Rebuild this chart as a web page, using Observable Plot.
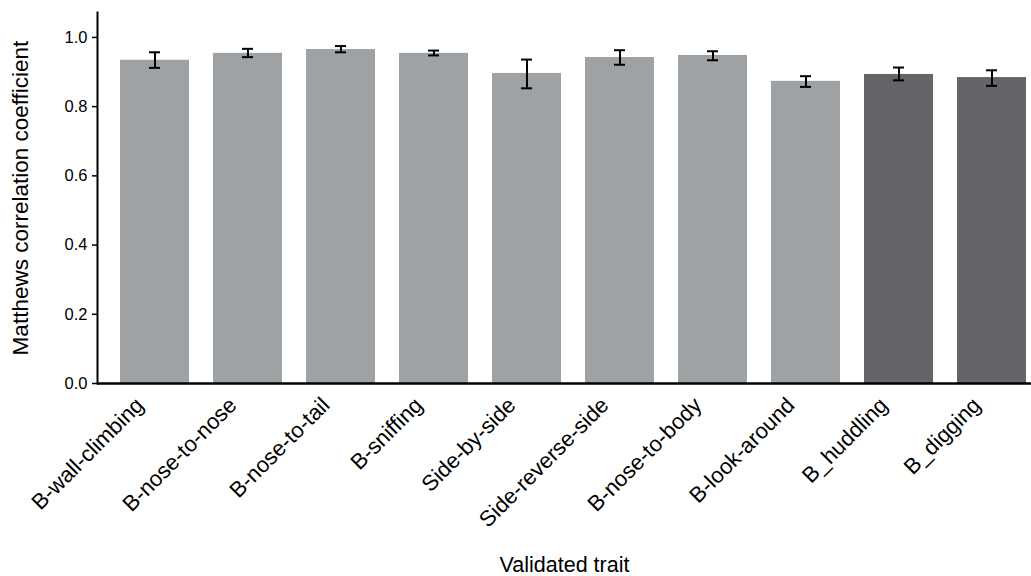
<!DOCTYPE html>
<html>
<head>
<meta charset="utf-8">
<script src="https://cdn.jsdelivr.net/npm/d3@7"></script>
<script src="https://cdn.jsdelivr.net/npm/@observablehq/plot@0.6"></script>
<style>
  html, body { margin: 0; padding: 0; background: #fff; }
  svg { font-family: "Liberation Sans", Arial, sans-serif; }
</style>
</head>
<body>
<div id="chart"></div>
<script>
const traits = ["B-wall-climbing", "B-nose-to-nose", "B-nose-to-tail", "B-sniffing", "Side-by-side",
  "Side-reverse-side", "B-nose-to-body", "B-look-around", "B_huddling", "B_digging"];
const mcc = [0.934, 0.954, 0.965, 0.954, 0.896, 0.942, 0.948, 0.873, 0.893, 0.884];
const errLow = [0.912, 0.943, 0.957, 0.948, 0.853, 0.921, 0.934, 0.857, 0.876, 0.860];
const errHigh = [0.957, 0.967, 0.975, 0.962, 0.936, 0.963, 0.960, 0.888, 0.913, 0.905];
const group = ["a", "a", "a", "a", "a", "a", "a", "a", "b", "b"];
const yTicks = [0, 0.2, 0.4, 0.6, 0.8, 1.0];

const data = traits.map((t, i) => ({trait: t, mcc: mcc[i], lo: errLow[i], hi: errHigh[i], group: group[i]}));

const chart = Plot.plot({
  width: 1031,
  height: 576,
  marginLeft: 97,
  marginRight: 0,
  marginTop: 12,
  marginBottom: 193,
  style: {fontFamily: "Liberation Sans, Arial, sans-serif", color: "#000", background: "#fff"},
  x: {domain: traits, paddingInner: 0.26, paddingOuter: 0.135, align: 0.8, label: null},
  y: {domain: [0, 1.072], label: null},
  color: {domain: ["a", "b"], range: ["#9fa2a5", "#636569"]},
  marks: [
    Plot.barY(data, {x: "trait", y: "mcc", fill: "group"}),
    Plot.ruleX(data, {x: "trait", y1: "lo", y2: "hi", stroke: "#000", strokeWidth: 2}),
    Plot.tickY(data, {x: "trait", y: "lo", stroke: "#000", strokeWidth: 2, insetLeft: 29, insetRight: 29}),
    Plot.tickY(data, {x: "trait", y: "hi", stroke: "#000", strokeWidth: 2, insetLeft: 29, insetRight: 29}),
    Plot.axisY({ticks: yTicks, tickFormat: d3.format(".1f"), tickSize: 5, tickPadding: 5, fontSize: 16.5, strokeWidth: 1.5}),
    Plot.axisY({ticks: [], label: "Matthews correlation coefficient", labelAnchor: "center", labelOffset: 85, labelArrow: "none", fontSize: 22.5}),
    Plot.axisX({tickSize: 0, tickRotate: -45, tickPadding: 18, dx: -15, fontSize: 22}),
    Plot.axisX({ticks: [], label: "Validated trait", labelAnchor: "center", labelOffset: 188, labelArrow: "none", fontSize: 21.5}),
    Plot.frame({anchor: "left", stroke: "#000", strokeWidth: 2}),
    Plot.ruleY([0], {stroke: "#000", strokeWidth: 2.5})
  ]
});
document.getElementById("chart").appendChild(chart);
chart.querySelectorAll("g[aria-label='x-axis label']").forEach(g => g.setAttribute("font-size", 21.5));
chart.querySelectorAll("g[aria-label='y-axis label']").forEach(g => g.setAttribute("font-size", 22.5));
</script>
</body>
</html>
